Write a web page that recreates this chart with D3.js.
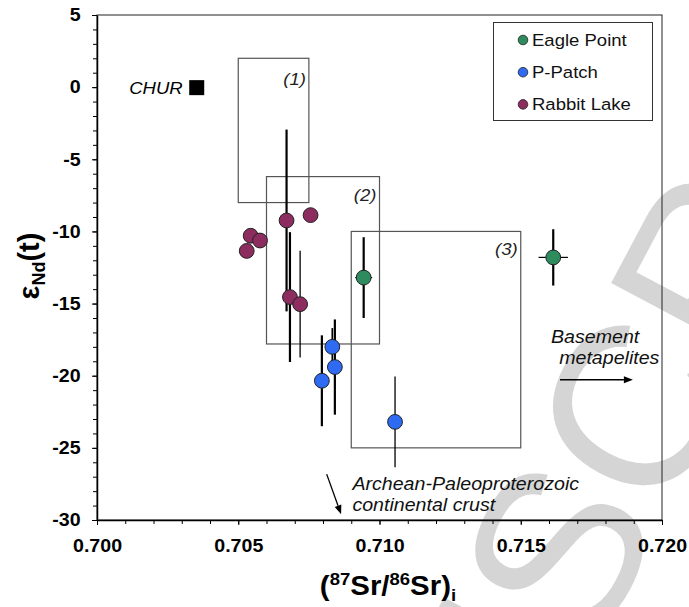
<!DOCTYPE html>
<html lang="en">
<head>
<meta charset="UTF-8">
<title>eNd vs Sr</title>
<script src="https://d3js.org/d3.v7.min.js"></script>
<style>
  body { margin: 0; background: #fff; }
  text { font-family: Arial, "Liberation Sans", sans-serif; }
</style>
</head>
<body>
<script>
// Data
var groups = ["Eagle Point", "P-Patch", "Rabbit Lake"];
var groupColors = ["#2e8b5e", "#2f6bf2", "#8c2c5f"];

var eagleX = [0.70944, 0.71615];
var eagleY = [-13.2, -11.8];
var eagleYErr = [2.8, 1.95];
var eagleXErr = [0.0003, 0.00052];

var patchX = [0.70833, 0.70842, 0.70796, 0.71055];
var patchY = [-18.0, -19.4, -20.35, -23.2];
var patchYErr = [1.3, 3.3, 3.15, 3.15];
var patchXErr = [0, 0, 0, 0];

var rabbitX = [0.70671, 0.70756, 0.70544, 0.70577, 0.7053, 0.70683, 0.70719];
var rabbitY = [-9.24, -8.87, -10.3, -10.63, -11.35, -14.55, -15.04];
var rabbitYErr = [6.3, 0, 0, 0, 0, 4.5, 3.7];
var rabbitXErr = [0, 0, 0, 0, 0, 0, 0];

// fields (x0, x1, y0, y1)
var fieldNames = ["(1)", "(2)", "(3)"];
var fieldX = [[0.705, 0.7075], [0.706, 0.710], [0.709, 0.715]];
var fieldY = [[-8, 2], [-17.8, -6.2], [-25, -10]];

var churX = 0.70353, churY = 0;

var xTicks = [0.700, 0.705, 0.710, 0.715, 0.720];
var yTicks = [5, 0, -5, -10, -15, -20, -25, -30];

// line widths of error bars (style)
var barWidth = [[2.2, 2.2], [1.7, 2.2, 2.2, 1.3], [2.2, 2.2, 2.2, 2.2, 2.2, 2.2, 1.3]];

var width = 689, height = 607;
var stretch = "scale(1.09,1)";

var svg = d3.select("body").append("svg")
    .attr("width", width)
    .attr("height", height);

svg.append("rect").attr("width", width).attr("height", height).attr("fill", "#fff");

var x = d3.scaleLinear().domain([0.700, 0.720]).range([97, 662]);
var y = d3.scaleLinear().domain([-30, 5]).range([520, 15]);

// watermark
svg.append("text")
    .attr("transform", "translate(274,1254) rotate(-62)")
    .attr("font-size", 230)
    .attr("fill", "#d5d5d5")
    .text("MANUSCRIPT");

// frame
svg.append("rect")
    .attr("x", x(0.700)).attr("y", y(5))
    .attr("width", x(0.720) - x(0.700)).attr("height", y(-30) - y(5))
    .attr("fill", "none").attr("stroke", "#222").attr("stroke-width", 1);

// minor ticks
svg.append("g").attr("transform", "translate(0," + y(-30) + ")")
    .call(d3.axisBottom(x).tickValues(d3.range(0, 21).map(function (i) { return 0.700 + i * 0.001; }))
        .tickSize(4).tickFormat(""))
    .call(function (g) { g.select(".domain").remove(); });
svg.append("g").attr("transform", "translate(" + x(0.700) + ",0)")
    .call(d3.axisLeft(y).tickValues(d3.range(-30, 6)).tickSize(4).tickFormat(""))
    .call(function (g) { g.select(".domain").remove(); });

// axes
var xAxis = svg.append("g").attr("transform", "translate(0," + y(-30) + ")")
    .call(d3.axisBottom(x).tickValues(xTicks).tickFormat(d3.format(".3f"))
        .tickSize(5).tickSizeOuter(0).tickPadding(14));
var yAxis = svg.append("g").attr("transform", "translate(" + x(0.700) + ",0)")
    .call(d3.axisLeft(y).tickValues(yTicks).tickFormat(function (d) { return String(d); })
        .tickSize(5).tickSizeOuter(0).tickPadding(10));
[xAxis, yAxis].forEach(function (g) {
    g.select(".domain").attr("stroke-width", 1.5);
    g.selectAll("text")
        .attr("font-size", 18).attr("font-weight", "bold").attr("fill", "#000")
        .attr("font-family", "Arial, 'Liberation Sans', sans-serif")
        .attr("transform", stretch);
});

// fields
fieldNames.forEach(function (name, i) {
    svg.append("rect")
        .attr("x", x(fieldX[i][0])).attr("y", y(fieldY[i][1]))
        .attr("width", x(fieldX[i][1]) - x(fieldX[i][0]))
        .attr("height", y(fieldY[i][0]) - y(fieldY[i][1]))
        .attr("fill", "none").attr("stroke", "#555").attr("stroke-width", 1.2);
    svg.append("text")
        .attr("transform", "translate(" + (x(fieldX[i][1]) - 3) + "," + (y(fieldY[i][1]) + (i === 0 ? 27 : 24)) + ") " + stretch)
        .attr("text-anchor", "end").attr("font-size", 17).attr("font-style", "italic")
        .attr("fill", "#222")
        .text(name);
});

// CHUR
svg.append("rect")
    .attr("x", x(churX) - 7.5).attr("y", y(churY) - 7).attr("width", 15).attr("height", 15)
    .attr("fill", "#000");
svg.append("text")
    .attr("transform", "translate(" + (x(churX) - 14) + "," + (y(churY) + 7) + ") " + stretch)
    .attr("text-anchor", "end").attr("font-size", 17).attr("font-style", "italic")
    .text("CHUR");

// annotations
function arrowLine(x0, y0, x1, y1) {
    var ax = x(x0), ay = y(y0), bx = x(x1), by = y(y1);
    var ang = Math.atan2(by - ay, bx - ax);
    var hl = 9, hw = 3.5;
    var sx = bx - hl * Math.cos(ang), sy = by - hl * Math.sin(ang);
    svg.append("line").attr("x1", ax).attr("y1", ay).attr("x2", sx).attr("y2", sy)
        .attr("stroke", "#000").attr("stroke-width", 1.3);
    svg.append("path")
        .attr("d", "M" + bx + "," + by +
            "L" + (sx + hw * Math.sin(ang)) + "," + (sy - hw * Math.cos(ang)) +
            "L" + (sx - hw * Math.sin(ang)) + "," + (sy + hw * Math.cos(ang)) + "Z")
        .attr("fill", "#000");
}
function note(str, xv, yv) {
    svg.append("text")
        .attr("transform", "translate(" + x(xv) + "," + y(yv) + ") " + stretch)
        .attr("font-size", 18).attr("font-style", "italic").attr("fill", "#111")
        .text(str);
}
note("Basement", 0.71607, -17.73);
note("metapelites", 0.71636, -19.17);
arrowLine(0.71639, -20.28, 0.71897, -20.28);
note("Archean-Paleoproterozoic", 0.70904, -27.9);
note("continental crust", 0.70904, -29.4);
arrowLine(0.70813, -26.82, 0.70864, -29.6);

// points
var series = [
    { xs: eagleX, ys: eagleY, ye: eagleYErr, xe: eagleXErr },
    { xs: patchX, ys: patchY, ye: patchYErr, xe: patchXErr },
    { xs: rabbitX, ys: rabbitY, ye: rabbitYErr, xe: rabbitXErr }
];

series.forEach(function (s, gi) {
    s.xs.forEach(function (xv, i) {
        if (s.ye[i] > 0) {
            svg.append("line")
                .attr("x1", x(xv)).attr("x2", x(xv))
                .attr("y1", y(s.ys[i] + s.ye[i])).attr("y2", y(s.ys[i] - s.ye[i]))
                .attr("stroke", "#000").attr("stroke-width", barWidth[gi][i]);
        }
        if (s.xe[i] > 0) {
            svg.append("line")
                .attr("x1", x(xv - s.xe[i])).attr("x2", x(xv + s.xe[i]))
                .attr("y1", y(s.ys[i])).attr("y2", y(s.ys[i]))
                .attr("stroke", "#000").attr("stroke-width", 1.2);
        }
    });
});

series.forEach(function (s, gi) {
    svg.append("g").selectAll("circle")
        .data(s.xs.map(function (xv, i) { return [xv, s.ys[i]]; }))
        .enter().append("circle")
        .attr("cx", function (d) { return x(d[0]); })
        .attr("cy", function (d) { return y(d[1]); })
        .attr("r", 7.4)
        .attr("fill", groupColors[gi])
        .attr("stroke", "#222").attr("stroke-width", 1);
});

// legend
var legend = svg.append("g");
legend.append("rect")
    .attr("x", 493.5).attr("y", 22.5).attr("width", 159).attr("height", 98)
    .attr("fill", "#fff").attr("stroke", "#333").attr("stroke-width", 1);
groups.forEach(function (name, i) {
    var cy = 40 + i * 32.2;
    legend.append("circle").attr("cx", 523).attr("cy", cy).attr("r", 4.8)
        .attr("fill", groupColors[i]).attr("stroke", "#222").attr("stroke-width", 0.8);
    legend.append("text")
        .attr("transform", "translate(532," + (cy + 6) + ") " + stretch)
        .attr("font-size", 17).attr("fill", "#111")
        .text(name);
});

// axis titles
var xt = svg.append("text")
    .attr("transform", "translate(388,595) " + stretch)
    .attr("text-anchor", "middle").attr("font-size", 27).attr("font-weight", "bold");
xt.append("tspan").text("(");
xt.append("tspan").attr("font-size", 17).attr("dy", -10).text("87");
xt.append("tspan").attr("dy", 10).text("Sr/");
xt.append("tspan").attr("font-size", 17).attr("dy", -10).text("86");
xt.append("tspan").attr("dy", 10).text("Sr)");
xt.append("tspan").attr("font-size", 17).attr("dy", 6).text("i");

var yt = svg.append("text")
    .attr("transform", "translate(39,266) rotate(-90)")
    .attr("text-anchor", "middle").attr("font-size", 29).attr("font-weight", "bold");
yt.append("tspan").text("ε");
yt.append("tspan").attr("font-size", 18).attr("dy", 6).text("Nd");
yt.append("tspan").attr("dy", -6).text("(t)");
</script>
</body>
</html>
